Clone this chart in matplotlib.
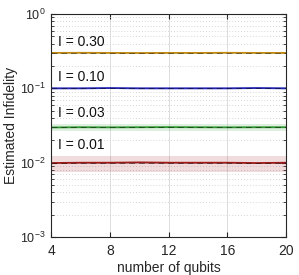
import numpy as np
import matplotlib
matplotlib.use("Agg")
import matplotlib.pyplot as plt
from matplotlib.ticker import LogLocator, NullFormatter

plt.rcParams['font.family'] = ['Liberation Sans', 'DejaVu Sans']
plt.rcParams['mathtext.fontset'] = 'custom'
plt.rcParams['mathtext.rm'] = 'Liberation Sans'
plt.rcParams['mathtext.it'] = 'Liberation Sans:italic'
plt.rcParams['mathtext.bf'] = 'Liberation Sans:bold'
plt.rcParams['mathtext.sf'] = 'Liberation Sans'
plt.rcParams['mathtext.default'] = 'regular'

qubits = [4, 6, 8, 10, 12, 14, 16, 18, 20]
labels = ["I = 0.30", "I = 0.10", "I = 0.03", "I = 0.01"]
true_vals = [0.30, 0.10, 0.03, 0.01]
est_030 = [0.300, 0.301, 0.300, 0.299, 0.300, 0.300, 0.301, 0.300, 0.300]
est_010 = [0.100, 0.100, 0.101, 0.100, 0.100, 0.100, 0.100, 0.101, 0.100]
est_003 = [0.0298, 0.0300, 0.0299, 0.0300, 0.0301, 0.0300, 0.0299, 0.0300, 0.0300]
est_001 = [0.0099, 0.0100, 0.0100, 0.0101, 0.0100, 0.0100, 0.0100, 0.0099, 0.0100]
lo_030 = [0.297] * 9
hi_030 = [0.303] * 9
lo_010 = [0.097] * 9
hi_010 = [0.103] * 9
lo_003 = [0.0268] * 9
hi_003 = [0.0332] * 9
lo_001 = [0.0076] * 9
hi_001 = [0.0122] * 9

ests = [est_030, est_010, est_003, est_001]
los = [lo_030, lo_010, lo_003, lo_001]
his = [hi_030, hi_010, hi_003, hi_001]
colors = ['#C08A10', '#2424B4', '#2E962E', '#9E1A1A']
label_y = [0.42, 0.142, 0.0466, 0.0173]

fig = plt.figure(figsize=(2.99, 2.75), dpi=100)
ax = fig.add_axes([0.171, 0.138, 0.786, 0.811])

for est, lo, hi, c, tv, lab, ly in zip(ests, los, his, colors, true_vals, labels, label_y):
    ax.fill_between(qubits, lo, hi, color=c, alpha=0.15, linewidth=0)
    ax.plot(qubits, est, color=c, linewidth=1.3)
    ax.plot(qubits, [tv] * len(qubits), color='k', linestyle=(0, (6, 4)), linewidth=0.7, alpha=0.45)
    ax.text(4.5, ly, lab, fontsize=10, ha='left', va='center', color='#111111')

ax.set_yscale('log')
ax.set_xlim(4, 20)
ax.set_ylim(1e-3, 1)
ax.set_xticks([4, 8, 12, 16, 20])
ax.yaxis.set_major_locator(LogLocator(base=10, numticks=10))
ax.yaxis.set_minor_locator(LogLocator(base=10, subs=np.arange(2, 10), numticks=10))
ax.yaxis.set_minor_formatter(NullFormatter())
ax.grid(True, which='major', color='#d8d8d8', linewidth=0.6)
ax.grid(True, which='minor', axis='y', color='#c8c8c8', linestyle=(0, (1, 2.5)), linewidth=0.6)
ax.set_axisbelow(True)
ax.tick_params(which='both', direction='in', top=True, right=True, colors='#262626')
ax.tick_params(axis='x', pad=5, labelsize=10)
ax.tick_params(axis='y', pad=4, labelsize=9)
ax.tick_params(which='major', length=3.5)
ax.tick_params(which='minor', length=2)
for s in ax.spines.values():
    s.set_color('#262626')
    s.set_linewidth(0.8)
ax.set_xlabel('number of qubits', fontsize=10, color='#262626')
ax.set_ylabel('Estimated Infidelity', fontsize=10, color='#262626')
ax.xaxis.set_label_coords(0.5, -0.108)
ax.yaxis.set_label_coords(-0.14, 0.5)

fig.savefig('out.png', dpi=100)
